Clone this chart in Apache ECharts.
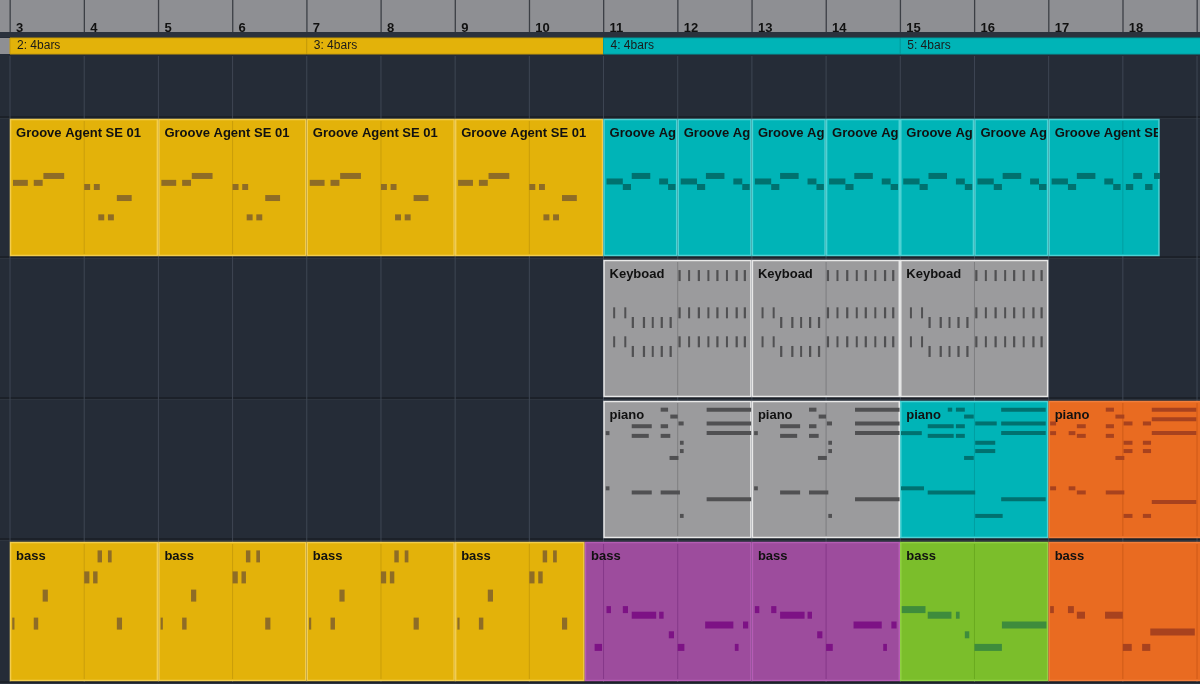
<!DOCTYPE html>
<html><head><meta charset="utf-8">
<script src="https://cdn.jsdelivr.net/npm/echarts@6/dist/echarts.min.js"></script>
<style>html,body{margin:0;padding:0;background:#252c37}#c{width:1200px;height:684px}</style>
</head><body><div id="c"></div>
<script>
// ---- data ----
const rulerBars = [3,4,5,6,7,8,9,10,11,12,13,14,15,16,17,18,19];
const arrangerStarts = [3, 7, 11, 15];
const arrangerEnds = [7, 11, 15, 19.3];
const arrangerLabels = ['2: 4bars','3: 4bars','4: 4bars','5: 4bars'];
const arrangerColors = ['yellow','yellow','teal','teal'];

// parts: track index, start bar, end bar, label, colour, note pattern, pattern anchor bar
const partTrack  = [1,1,1,1, 1,1,1,1,1,1,1, 2,2,2, 3,3,3,3, 4,4,4,4, 4,4,4,4];
const partStart  = [3,5,7,9, 11,12,13,14,15,16,17, 11,13,15, 11,13,15,17, 3,5,7,9, 10.75,13,15,17];
const partEnd    = [5,7,9,11, 12,13,14,15,16,17,18.5, 13,15,17, 13,15,17,19.3, 5,7,9,10.75, 13,15,17,19.3];
const partLabel  = ['Groove Agent SE 01','Groove Agent SE 01','Groove Agent SE 01','Groove Agent SE 01',
  'Groove Agent SE 01','Groove Agent SE 01','Groove Agent SE 01','Groove Agent SE 01','Groove Agent SE 01','Groove Agent SE 01','Groove Agent SE 01',
  'Keyboad','Keyboad','Keyboad','piano','piano','piano','piano',
  'bass','bass','bass','bass','bass','bass','bass','bass'];
const partColor  = ['yellow','yellow','yellow','yellow','teal','teal','teal','teal','teal','teal','teal',
  'gray','gray','gray','gray','gray','teal','orange',
  'yellow','yellow','yellow','yellow','purple','purple','green','orange'];
const partPattern = ['grooveA','grooveA','grooveA','grooveA','grooveB','grooveB','grooveB','grooveB','grooveB','grooveB','grooveB2',
  'keys','keys','keys','pianoA','pianoA','pianoB','pianoC',
  'bassA','bassA','bassA','bassA','bassP1','bassP','bassG','bassO'];

// note patterns: [offset in bars from part start/anchor, length in bars, pitch position (0 top .. 1 bottom of track)]
const grooveA = [[0.04,0.2,0.47],[0.32,0.12,0.47],[0.45,0.28,0.42],[1.0,0.08,0.5],[1.13,0.08,0.5],[1.44,0.2,0.58],[1.19,0.08,0.72],[1.32,0.08,0.72]];
const grooveB = [[0.04,0.22,0.46],[0.26,0.11,0.5],[0.38,0.25,0.42],[0.75,0.12,0.46],[0.87,0.1,0.5]];
const grooveB2 = [[0.04,0.22,0.46],[0.26,0.11,0.5],[0.38,0.25,0.42],[0.75,0.12,0.46],[0.87,0.1,0.5],
  [1.04,0.1,0.5],[1.14,0.12,0.42],[1.3,0.1,0.5],[1.42,0.08,0.42]];
const keys = [
  [1.01,0.03,0.12],[1.14,0.02,0.12],[1.27,0.03,0.12],[1.4,0.02,0.12],[1.52,0.03,0.12],[1.65,0.02,0.12],[1.78,0.03,0.12],[1.89,0.03,0.12],
  [0.13,0.02,0.39],[0.28,0.02,0.39],
  [1.01,0.03,0.39],[1.14,0.02,0.39],[1.27,0.03,0.39],[1.4,0.02,0.39],[1.52,0.03,0.39],[1.65,0.02,0.39],[1.78,0.03,0.39],[1.89,0.03,0.39],
  [0.38,0.03,0.46],[0.53,0.03,0.46],[0.65,0.02,0.46],[0.77,0.03,0.46],[0.89,0.03,0.46],
  [0.13,0.02,0.6],[0.28,0.02,0.6],
  [1.01,0.03,0.6],[1.14,0.02,0.6],[1.27,0.03,0.6],[1.4,0.02,0.6],[1.52,0.03,0.6],[1.65,0.02,0.6],[1.78,0.03,0.6],[1.89,0.03,0.6],
  [0.38,0.03,0.67],[0.53,0.03,0.67],[0.65,0.02,0.67],[0.77,0.03,0.67],[0.89,0.03,0.67]];
const pianoA = [[0.77,0.1,0.07],[0.9,0.1,0.12],[0.38,0.27,0.19],[0.77,0.1,0.19],[0.38,0.23,0.26],[0.77,0.13,0.26],
  [0.03,0.05,0.24],[1.01,0.07,0.17],[1.03,0.05,0.31],[1.03,0.05,0.37],[0.89,0.12,0.42],
  [1.39,0.6,0.07],[1.39,0.6,0.17],[1.39,0.6,0.24],[0.03,0.05,0.64],[0.38,0.27,0.67],[0.77,0.26,0.67],
  [1.39,0.6,0.72],[1.03,0.05,0.84]];
const pianoB = [[0.01,0.31,0.64],[0.37,0.64,0.67],[0.01,0.28,0.24],[0.37,0.35,0.26],[0.37,0.35,0.19],[0.75,0.12,0.19],
  [0.75,0.12,0.26],[0.75,0.12,0.07],[0.64,0.06,0.07],[0.86,0.13,0.12],[0.86,0.13,0.42],[1.01,0.29,0.17],
  [1.01,0.27,0.31],[1.01,0.27,0.37],[1.36,0.6,0.07],[1.36,0.6,0.17],[1.36,0.6,0.24],[1.36,0.6,0.72],[1.01,0.37,0.84]];
const pianoC = [[0.02,0.08,0.17],[0.02,0.08,0.24],[0.27,0.09,0.24],[0.38,0.12,0.19],[0.38,0.12,0.26],[0.77,0.11,0.07],
  [0.9,0.12,0.12],[0.77,0.11,0.19],[0.77,0.11,0.26],[0.9,0.12,0.42],[1.01,0.12,0.17],[1.01,0.12,0.31],[1.01,0.12,0.37],
  [1.27,0.11,0.17],[1.27,0.11,0.31],[1.27,0.11,0.37],[1.39,0.6,0.07],[1.39,0.6,0.14],[1.39,0.6,0.24],
  [0.02,0.08,0.64],[0.27,0.09,0.64],[0.38,0.12,0.67],[0.77,0.25,0.67],[1.39,0.6,0.74],[1.01,0.12,0.84],[1.27,0.11,0.84]];
const bassA = [[1.18,0.06,0.11],[1.32,0.05,0.11],[1.0,0.07,0.26],[1.12,0.06,0.26],[0.44,0.07,0.39],[0.03,0.03,0.59],[0.32,0.06,0.59],[1.44,0.07,0.59]];
const bassP = [[0.04,0.06,0.49],[0.26,0.07,0.49],[0.38,0.33,0.53],[0.75,0.06,0.53],[0.88,0.07,0.67],[1.0,0.09,0.76],[1.37,0.38,0.6],[1.77,0.05,0.76],[1.88,0.07,0.6]];
const bassP1 = [[-0.12,0.1,0.76]].concat(bassP);
const bassG = [[0.02,0.32,0.49],[0.37,0.32,0.53],[0.75,0.05,0.53],[0.87,0.06,0.67],[1.0,0.37,0.76],[1.37,0.6,0.6]];
const bassO = [[0.02,0.05,0.49],[0.26,0.08,0.49],[0.38,0.11,0.53],[0.76,0.24,0.53],[1.0,0.12,0.76],[1.26,0.11,0.76],[1.37,0.6,0.65]];

// ---- styling / layout ----
const PATTERNS = {grooveA, grooveB, grooveB2, keys, pianoA, pianoB, pianoC, bassA, bassP, bassP1, bassG, bassO};
const NOTE_H = {grooveA:6, grooveB:6, grooveB2:6, keys:11, pianoA:4, pianoB:4, pianoC:4, bassA:12, bassP:7, bassP1:7, bassG:7, bassO:7};
const COL = {
  yellow:{fill:'#E3B20A', border:'#F3CD4E', note:'#8E6C26', line:'#C99D0A'},
  teal:{fill:'#00B4B7', border:'#4ED3D5', note:'#00716F', line:'#009EA1'},
  gray:{fill:'#9B9B9D', border:'#E8E8E8', note:'#505052', line:'#7E7E80'},
  purple:{fill:'#9D4C9D', border:'#B55DB5', note:'#7D1285', line:'#86388A'},
  green:{fill:'#7BBE2B', border:'#92D244', note:'#3E8C3C', line:'#6AAA20'},
  orange:{fill:'#E96B21', border:'#F27F3C', note:'#A8421E', line:'#CF5A18'}
};
const TRACKS = [[55,116],[118,256],[259,397],[400,538],[541,681]];

// build note list through the patterns
const notes = [];
partStart.forEach((s, i) => {
  const anchor = partPattern[i] === 'bassP1' ? 11 : s;
  PATTERNS[partPattern[i]].forEach(n => {
    const a = anchor + n[0];
    if (a >= s && a < partEnd[i]) notes.push([a, Math.min(n[1], partEnd[i]-a), i, n[2]]);
  });
});

const chart = echarts.init(document.getElementById('c'), null, {renderer:'canvas'});
const FONT = 'Helvetica, "Liberation Sans", Arial, sans-serif';

function rect(api, x0, x1, y0, y1) {
  const p0 = api.coord([x0, y0]), p1 = api.coord([x1, y1]);
  return {x:p0[0], y:p0[1], width:p1[0]-p0[0], height:p1[1]-p0[1]};
}

chart.setOption({
  animation:false,
  backgroundColor:'#252c37',
  grid:{left:0, right:0, top:0, bottom:0},
  xAxis:{type:'value', min:2.865, max:19.04, show:false},
  yAxis:{type:'value', min:0, max:684, inverse:true, show:false},
  series:[
    // ruler + grid
    {type:'custom', silent:true, data:rulerBars.map((b,i)=>[b,i]),
     renderItem(params, api){
       const b = api.value(0);
       const children = [];
       if (params.dataIndex === 0) {
         children.push({type:'rect', shape:rect(api, 2.8, 19.1, 0, 32), style:{fill:'#8E8F93'}});
         children.push({type:'rect', shape:rect(api, 2.8, 19.1, 32, 37), style:{fill:'#2B323D'}});
         children.push({type:'rect', shape:rect(api, 2.8, 3, 38, 54), style:{fill:'#8E8F93'}});
         TRACKS.forEach(t=>{
           children.push({type:'rect', shape:rect(api, 2.8, 19.1, t[1], t[1]+2.5), style:{fill:'#1C2129'}});
           children.push({type:'rect', shape:rect(api, 2.8, 19.1, t[1]+2.5, t[1]+3), style:{fill:'#3A424E'}});
         });
       }
       const top = api.coord([b, 0]);
       children.push({type:'rect', shape:{x:top[0]-0.5, y:0, width:1.3, height:32}, style:{fill:'#3C3F45'}});
       children.push({type:'rect', shape:{x:top[0]-0.5, y:56, width:1, height:626}, style:{fill:'#3E4653'}});
       children.push({type:'text', x:top[0]+6, y:22, style:{text:String(b), fill:'#111', font:'bold 13px '+FONT, textBaseline:'alphabetic'}});
       return {type:'group', children};
     }},
    // arranger
    {type:'custom', silent:true, data:arrangerStarts.map((s,i)=>[s,i]),
     renderItem(params, api){
       const i = api.value(1);
       const c = COL[arrangerColors[i]];
       const r = rect(api, arrangerStarts[i], arrangerEnds[i], 38, 54);
       return {type:'group', children:[
         {type:'rect', shape:r, style:{fill:c.fill, stroke:c.line, lineWidth:1}},
         {type:'text', x:r.x+7, y:r.y+8, style:{text:arrangerLabels[i], fill:'#1a1a1a', font:'12px '+FONT, textVerticalAlign:'middle'}}
       ]};
     }},
    // parts
    {type:'custom', silent:true, data:partStart.map((s,i)=>[s,i]),
     renderItem(params, api){
       const i = api.value(1);
       const c = COL[partColor[i]];
       const t = TRACKS[partTrack[i]];
       const r = rect(api, partStart[i], partEnd[i], t[0]+1, t[1]);
       const children = [
         {type:'rect', shape:{x:r.x+0.5, y:r.y+0.5, width:r.width-1.5, height:r.height-1}, style:{fill:c.fill, stroke:c.border, lineWidth:1.5}}
       ];
       for (let b = Math.ceil(partStart[i]+0.01); b < partEnd[i]; b++) {
         const p = api.coord([b, 0]);
         children.push({type:'rect', shape:{x:p[0]-0.5, y:r.y+2, width:1, height:r.height-4}, style:{fill:c.line}});
       }
       children.push({type:'text', x:r.x+6, y:r.y+14,
         style:{text:partLabel[i], fill:'#111', font:'bold 13px '+FONT, textVerticalAlign:'middle'},
         clipPath:{type:'rect', shape:{x:0, y:-20, width:r.width-8, height:40}}});
       return {type:'group', children};
     }},
    // notes
    {type:'custom', silent:true, data:notes.map((n,i)=>[n[0],i]),
     renderItem(params, api){
       const n = notes[api.value(1)];
       const pi = n[2];
       const t = TRACKS[partTrack[pi]];
       const h = NOTE_H[partPattern[pi]];
       const yc = t[0] + (t[1]-t[0]) * n[3];
       const r = rect(api, n[0], n[0]+n[1], yc - h/2, yc + h/2);
       return {type:'rect', shape:{x:r.x, y:r.y, width:Math.max(2, r.width), height:r.height}, style:{fill:COL[partColor[pi]].note}};
     }}
  ]
});
</script>
</body></html>
